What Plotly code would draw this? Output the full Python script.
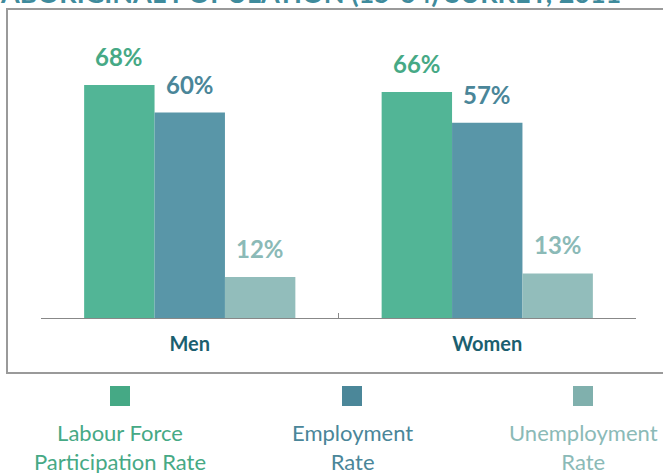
import plotly.graph_objects as go

categories = ["Men", "Women"]
series_names = ["Labour Force<br>Participation Rate", "Employment<br>Rate", "Unemployment<br>Rate"]
lfpr = [68, 66]
employment = [60, 57]
unemployment = [12, 13]
title_text = "ABORIGINAL POPULATION (15-64) SURREY, 2011"

bar_colors = ["#52b596", "#5996a8", "#92bdbb"]
label_colors = ["#46a985", "#4a8699", "#8bbab7"]
legend_sq_colors = ["#45a985", "#4b8799", "#80b0ad"]

W, H = 663, 473
ML, MR, MT, MB = 41, 27, 44, 155
PW, PH = W - ML - MR, H - MT - MB
BARGAP = 0.29


def px(x):
    return (x - ML) / PW


def py(y):
    return (H - MB - y) / PH


fig = go.Figure()
values = [lfpr, employment, unemployment]
n = len(values)
cat_px = PW / len(categories)
bar_px = cat_px * (1 - BARGAP) / n
annotations = []
for i, (name, vals) in enumerate(zip(series_names, values)):
    fig.add_trace(go.Bar(
        x=categories, y=vals, name=name.replace("<br>", " "),
        marker=dict(color=bar_colors[i], line=dict(width=0)),
        showlegend=False, hoverinfo="skip",
    ))
    for c, v in zip(categories, vals):
        annotations.append(dict(
            text=f"<b>{v}%</b>", x=c, y=v, xref="x", yref="y",
            xshift=(i - (n - 1) / 2) * bar_px, yshift=12,
            xanchor="center", yanchor="bottom", showarrow=False,
            font=dict(color=label_colors[i], size=24, family="Lato"),
        ))

fig.update_layout(
    width=W, height=H,
    margin=dict(l=ML, r=MR, t=MT, b=MB, pad=0),
    paper_bgcolor="white", plot_bgcolor="white",
    barmode="group", bargap=BARGAP, bargroupgap=0,
    xaxis=dict(
        showline=True, linecolor="#888888", linewidth=1.2,
        ticks="inside", tickson="boundaries", ticklen=5, tickcolor="#888888",
        tickfont=dict(family="Lato", size=20, color="#1b5f6f", weight="bold"),
        showgrid=False, zeroline=False, fixedrange=True, ticklabelstandoff=8,
    ),
    yaxis=dict(range=[0, 80], visible=False, showgrid=False, fixedrange=True),
    font=dict(family="Lato"),
)

shapes = [
    dict(type="rect", xref="paper", yref="paper",
         x0=px(7), x1=px(700), y0=py(373), y1=py(9),
         line=dict(color="#9a9a9a", width=2), fillcolor="rgba(0,0,0,0)", layer="below"),
]
annotations.append(
    dict(text=f"<b>{title_text}</b>", xref="paper", yref="paper",
         x=px(-2), y=py(11), xanchor="left", yanchor="bottom", showarrow=False,
         font=dict(family="Lato", size=27, color="#3f8b9c")),
)
leg_x = [120, 352, 583]
for i, name in enumerate(series_names):
    cx = leg_x[i]
    shapes.append(dict(type="rect", xref="paper", yref="paper",
                       x0=px(cx - 10), x1=px(cx + 10), y0=py(406), y1=py(386),
                       line=dict(width=0), fillcolor=legend_sq_colors[i]))
    annotations.append(dict(text=name, xref="paper", yref="paper",
                            x=px(cx), y=py(447), xanchor="center", yanchor="middle",
                            showarrow=False, align="center",
                            font=dict(family="Lato", size=22, color=label_colors[i]),
                            ))
fig.update_layout(shapes=shapes, annotations=annotations)

fig.write_html("out.html", post_script="document.body.style.margin='0';",
               config={"displayModeBar": False})
